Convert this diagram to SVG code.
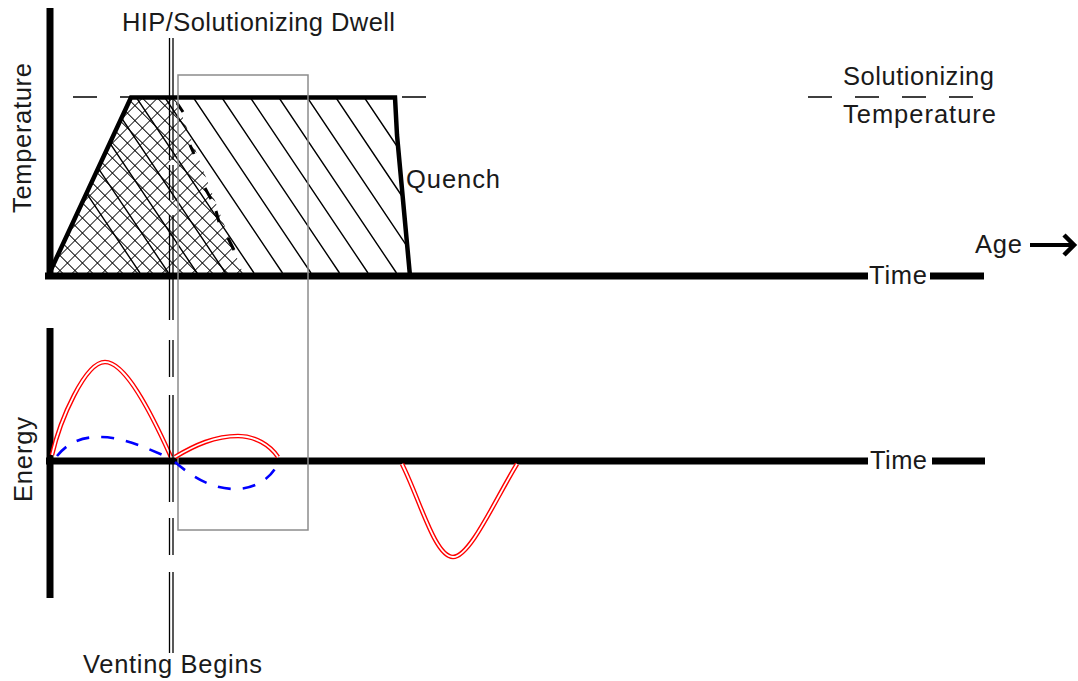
<svg xmlns="http://www.w3.org/2000/svg" width="1078" height="681" viewBox="0 0 1078 681">
<style>
.t{font-family:"Liberation Sans",Arial,sans-serif;font-size:25.5px;fill:#1a1a1a}
.ax{stroke:#000;stroke-width:7;fill:none}
.edge{stroke:#000;stroke-width:4.5;fill:none;stroke-linejoin:miter}
.hat{stroke:#000;stroke-width:1.4;fill:none}
.red{stroke:#ff0000;stroke-width:4.6;fill:none}
.redc{stroke:#fff;stroke-width:1.8;fill:none}
.blue{stroke:#0000ff;stroke-width:2.6;fill:none;stroke-dasharray:13 12}
.dash{stroke:#000;stroke-width:1.4;fill:none;stroke-dasharray:24 23}
.vl{stroke:#000;stroke-width:1.3;fill:none}
</style>
<defs>
<clipPath id="trap"><polygon points="49,276 131,97 395,97 397,135 410,276"/></clipPath>
<pattern id="xh" patternUnits="userSpaceOnUse" width="10.6" height="10.6" patternTransform="rotate(45)">
<path d="M0 0H10.6M0 0V10.6" stroke="#000" stroke-width="1.7"/>
</pattern>
</defs>
<rect width="1078" height="681" fill="#fff"/>

<g id="reference-lines">
<path class="dash" d="M73,97H430"/>
<path class="dash" d="M808,97H975"/>
</g>

<g id="temperature-profile">
<g clip-path="url(#trap)">
<path class="hat" d="M22,97l118,176 M50.5,97l118,176 M79,97l118,176 M107.5,97l118,176 M136,97l118,176 M164.5,97l118,176 M193,97l118,176 M221.5,97l118,176 M250,97l118,176 M278.5,97l118,176 M307,97l118,176 M335.5,97l118,176 M364,97l118,176 M392.5,97l118,176"/>
<polygon points="49,276 131,97 175,97 244,276" fill="url(#xh)"/>
</g>
<path d="M177,103l6,9 M190,145l4,9 M205,188l6,11 M216,211l3,11 M228,238l6,12" stroke="#000" stroke-width="3" fill="none"/>
<polyline class="edge" points="49,274 131,97.5 395,97.5 397,135 410,276"/>
</g>

<g id="axes">
<path class="ax" d="M50,8V279 M45,276H868 M930,276H984"/>
<path class="ax" d="M50,328V598 M46,461H868 M932,461H985"/>
</g>

<g id="dwell-window">
<rect x="178" y="75" width="130" height="455" fill="none" stroke="#8c8c8c" stroke-width="1.5"/>
</g>

<g id="energy-curves">
<path class="red" d="M52,455C60,420 85,362 105,362C125,362 150,410 171,457"/>
<path class="redc" d="M52,455C60,420 85,362 105,362C125,362 150,410 171,457"/>
<path class="red" d="M175,457C195,445 215,436 238,436C255,436 270,445 278,457"/>
<path class="redc" d="M175,457C195,445 215,436 238,436C255,436 270,445 278,457"/>
<path class="red" d="M402,464C420,500 435,557 453,557C470,557 495,500 517,464"/>
<path class="redc" d="M402,464C420,500 435,557 453,557C470,557 495,500 517,464"/>
<path class="blue" d="M57,456C70,440 85,437 100,437C125,437 150,450 170,458"/>
<path class="blue" d="M175,462C190,475 210,489 235,489C255,489 272,478 278,463"/>
</g>

<g id="venting-line">
<path class="vl" d="M169.5,38V160 M169.5,165V200 M169.5,215V320 M169.5,340V377 M169.5,395V502 M169.5,518V555 M169.5,572V653"/>
<path class="vl" d="M173,38V160 M173,165V200 M173,215V320 M173,340V377 M173,395V502 M173,518V555 M173,572V653"/>
</g>

<g id="age-arrow">
<path d="M1030,245H1073" stroke="#000" stroke-width="4" fill="none"/>
<polyline points="1064,235 1074,245 1064,255" stroke="#000" stroke-width="4.5" fill="none"/>
</g>

<g id="labels">
<text class="t" x="122" y="31" textLength="273" lengthAdjust="spacing">HIP/Solutionizing Dwell</text>
<text class="t" transform="translate(31,213) rotate(-90)" textLength="150" lengthAdjust="spacing">Temperature</text>
<text class="t" x="843" y="85" textLength="151" lengthAdjust="spacing">Solutionizing</text>
<text class="t" x="843" y="123" textLength="153" lengthAdjust="spacing">Temperature</text>
<text class="t" x="406" y="188" textLength="94" lengthAdjust="spacing">Quench</text>
<text class="t" x="869" y="284" textLength="58" lengthAdjust="spacing">Time</text>
<text class="t" x="975" y="253" textLength="47" lengthAdjust="spacing">Age</text>
<text class="t" transform="translate(32,502) rotate(-90)" textLength="85" lengthAdjust="spacing">Energy</text>
<text class="t" x="870" y="469" textLength="57" lengthAdjust="spacing">Time</text>
<text class="t" x="83" y="673" textLength="179" lengthAdjust="spacing">Venting Begins</text>
</g>
</svg>
